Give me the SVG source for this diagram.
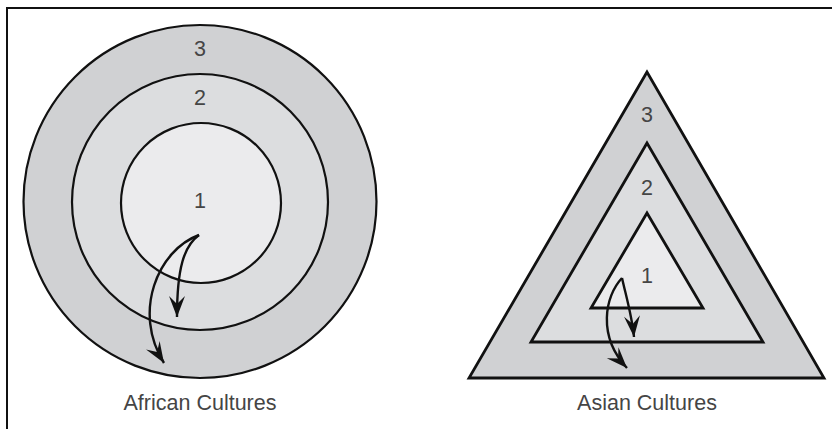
<svg xmlns="http://www.w3.org/2000/svg" width="832" height="429" viewBox="0 0 832 429">
<style>
.lbl{font-family:"Liberation Sans",Arial,sans-serif;font-size:21.5px;fill:#454545;text-anchor:middle}
.ring{stroke:#111;stroke-width:2.2}
.tri{stroke:#111;stroke-width:2.8;stroke-linejoin:miter}
.arr{fill:none;stroke:#111;stroke-width:2.4;marker-end:url(#ah)}
.f3{fill:#d0d1d3}.f2{fill:#dcdddf}.f1{fill:#ebebed}
</style>
<defs>
<marker id="ah" markerUnits="userSpaceOnUse" viewBox="-22 -9 23 18" refX="0" refY="0" markerWidth="23" markerHeight="18" orient="auto">
<path d="M0,0 L-21,-8 L-13,0 L-21,8 Z" fill="#111"/>
</marker>
</defs>
<rect width="832" height="429" fill="#fff"/>
<g id="frame" fill="none" stroke="#111" stroke-width="2">
<line x1="6" y1="8" x2="832" y2="8"/>
<line x1="7" y1="7" x2="7" y2="429"/>
</g>
<g id="african">
<g id="c3"><circle class="ring f3" cx="200" cy="201.5" r="176.5"/><text class="lbl" x="200" y="56">3</text></g>
<g id="c2"><circle class="ring f2" cx="200" cy="202" r="128"/><text class="lbl" x="200" y="105">2</text></g>
<g id="c1"><circle class="ring f1" cx="201" cy="203" r="80"/><text class="lbl" x="200" y="208">1</text></g>
<text class="lbl" x="200" y="410">African Cultures</text>
</g>
<g id="asian">
<g id="t3"><polygon class="tri f3" points="647,72 469,378 824,378"/><text class="lbl" x="647" y="122">3</text></g>
<g id="t2"><polygon class="tri f2" points="647,143 531,342 763,342"/><text class="lbl" x="647" y="195">2</text></g>
<g id="t1"><polygon class="tri f1" points="647,213 591,308 703,308"/><text class="lbl" x="647" y="283">1</text></g>
<text class="lbl" x="647" y="410">Asian Cultures</text>
</g>
<g id="connectors">
<path class="arr" d="M199,235 C184,246 177,268 177,317"/>
<path class="arr" d="M199,235 C158,250 132,312 164,363"/>
<path class="arr" d="M622,278 C626,296 632,316 634,337"/>
<path class="arr" d="M622,278 C605,296 597,336 627,368"/>
</g>
</svg>
